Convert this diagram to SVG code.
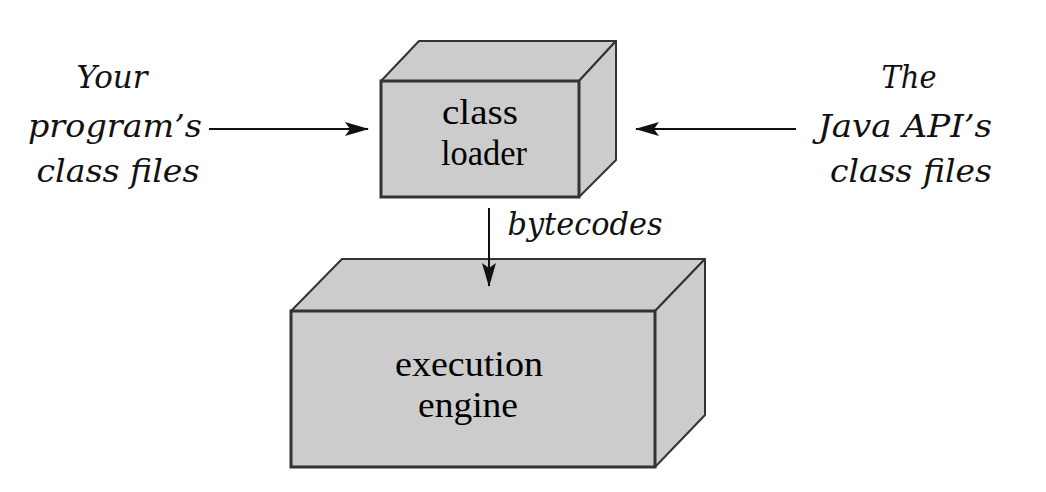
<svg xmlns="http://www.w3.org/2000/svg" width="1046" height="492" viewBox="0 0 1046 492">
<style>
.face{fill:#cccccc;stroke:#333333;stroke-width:2;stroke-linejoin:round}
.front{fill:#cccccc;stroke:#333333;stroke-width:3}
.box{font-family:"Liberation Serif","Times New Roman",serif;font-size:35px;fill:#000000;text-anchor:middle}
.lbl{font-family:"DejaVu Serif","Liberation Serif",serif;font-style:italic;font-size:31px;fill:#111111;text-anchor:middle}
.conn{stroke:#111111;stroke-width:2;fill:none}
</style>
<defs>
<marker id="ah" viewBox="0 0 24 16" refX="23" refY="8" markerWidth="24" markerHeight="16" markerUnits="userSpaceOnUse" orient="auto">
<path d="M0,1 L24,8 L0,15 L5,8 Z" fill="#111111"/>
</marker>
</defs>
<rect width="1046" height="492" fill="#ffffff"/>
<g id="class-loader">
<polygon class="face" points="381,81 419,41 616,41 579,81"/>
<polygon class="face" points="579,81 616,41 616,160 579,197"/>
<rect class="front" x="381" y="81" width="198" height="116"/>
<text class="box" x="480" y="124" textLength="76" lengthAdjust="spacingAndGlyphs">class</text>
<text class="box" x="484" y="165" textLength="86" lengthAdjust="spacingAndGlyphs">loader</text>
</g>
<g id="execution-engine">
<polygon class="face" points="291,311 342,259 705,259 655,311"/>
<polygon class="face" points="655,311 705,259 705,415 655,467"/>
<rect class="front" x="291" y="311" width="364" height="156"/>
<text class="box" x="469" y="376" textLength="148" lengthAdjust="spacingAndGlyphs">execution</text>
<text class="box" x="468" y="417" textLength="100" lengthAdjust="spacingAndGlyphs">engine</text>
</g>
<g id="your-class-files">
<text class="lbl" x="112" y="88" textLength="71" lengthAdjust="spacingAndGlyphs">Your</text>
<text class="lbl" x="115" y="137" textLength="174" lengthAdjust="spacingAndGlyphs">program’s</text>
<text class="lbl" x="118" y="182" textLength="163" lengthAdjust="spacingAndGlyphs">class files</text>
</g>
<g id="java-api-class-files">
<text class="lbl" x="909" y="88" textLength="55" lengthAdjust="spacingAndGlyphs">The</text>
<text class="lbl" x="905" y="137" textLength="174" lengthAdjust="spacingAndGlyphs">Java API’s</text>
<text class="lbl" x="911" y="182" textLength="162" lengthAdjust="spacingAndGlyphs">class files</text>
</g>
<g id="connectors">
<line class="conn" x1="209" y1="129" x2="368" y2="129" marker-end="url(#ah)"/>
<line class="conn" x1="796" y1="129" x2="636" y2="129" marker-end="url(#ah)"/>
<line class="conn" x1="489" y1="208" x2="489" y2="286" marker-end="url(#ah)"/>
<text class="lbl" x="585" y="235" textLength="155" lengthAdjust="spacingAndGlyphs">bytecodes</text>
</g>
</svg>
